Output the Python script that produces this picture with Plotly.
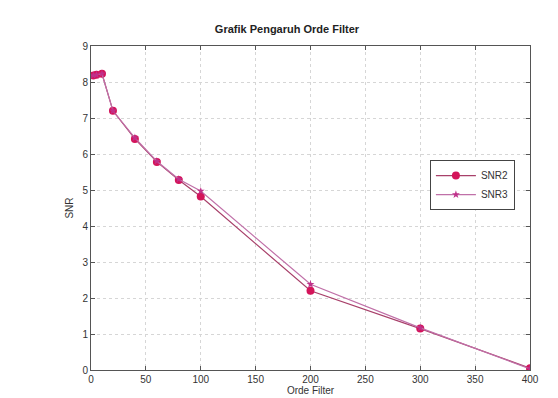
import plotly.graph_objects as go

orde = [2, 5, 10, 20, 40, 60, 80, 100, 200, 300, 400]
snr2 = [8.18, 8.2, 8.23, 7.2, 6.42, 5.78, 5.28, 4.82, 2.2, 1.15, 0.05]
snr3 = [8.18, 8.2, 8.23, 7.2, 6.45, 5.8, 5.3, 4.97, 2.38, 1.17, 0.03]
xticks = [0, 50, 100, 150, 200, 250, 300, 350, 400]
yticks = [0, 1, 2, 3, 4, 5, 6, 7, 8, 9]

fig = go.Figure()
fig.add_trace(go.Scatter(
    x=orde, y=snr2, name="SNR2", mode="lines+markers",
    line=dict(color="#a8406a", width=1.2),
    marker=dict(symbol="circle", size=8, color="#d4145a", line=dict(width=0)),
))
fig.add_trace(go.Scatter(
    x=orde, y=snr3, name="SNR3", mode="lines+markers",
    line=dict(color="#c070a8", width=1.2),
    marker=dict(symbol="star", size=6, color="#c0308a", line=dict(width=0)),
))

axis_common = dict(
    showline=True, linecolor="#555555", linewidth=1, mirror="ticks",
    ticks="inside", ticklen=4, tickcolor="#555555",
    showgrid=True, gridcolor="#d6d6d6", griddash="dot", gridwidth=1,
    zeroline=False, tickfont=dict(family="Liberation Sans, Arial", size=10, color="#333333"),
)

fig.update_layout(
    width=558, height=398,
    paper_bgcolor="white", plot_bgcolor="white",
    margin=dict(l=83, r=36, t=38, b=36),
    title=dict(text="<b>Grafik Pengaruh Orde Filter</b>", x=0.5, xanchor="center",
               y=0.948, yanchor="middle",
               font=dict(family="Liberation Sans, Arial", size=11, color="#222222")),
    xaxis=dict(range=[0, 400], tickvals=xticks,
               title=dict(text="Orde Filter", standoff=2,
                          font=dict(family="Liberation Sans, Arial", size=10, color="#333333")),
               **axis_common),
    yaxis=dict(range=[0, 9], tickvals=yticks,
               title=dict(text="SNR", standoff=6,
                          font=dict(family="Liberation Sans, Arial", size=10, color="#333333")),
               **axis_common),
    legend=dict(x=0.772, y=0.648, xanchor="left", yanchor="top",
                bgcolor="white", bordercolor="#444444", borderwidth=1,
                font=dict(family="Liberation Sans, Arial", size=10, color="#333333"),
                itemwidth=40, tracegroupgap=0),
    showlegend=True,
)

fig.write_html("out.html")
